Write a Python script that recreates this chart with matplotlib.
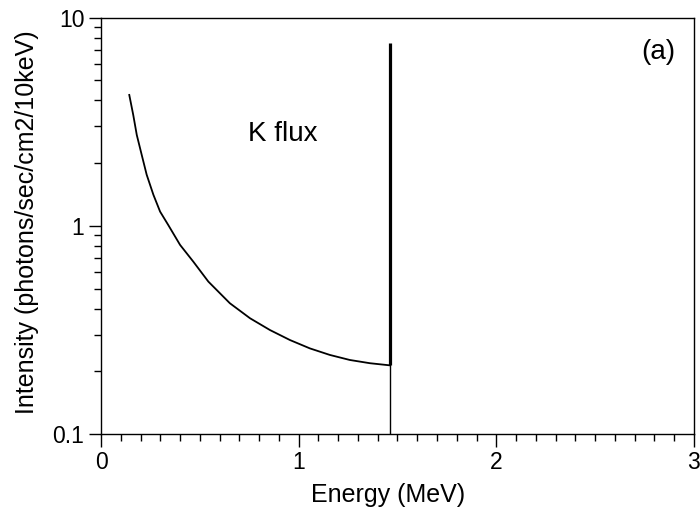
import matplotlib
matplotlib.use("Agg")
import matplotlib.pyplot as plt
from matplotlib.ticker import LogLocator, FixedLocator, MultipleLocator, NullFormatter, FixedFormatter

plt.rcParams['font.family'] = ['Liberation Sans', 'DejaVu Sans']

# continuum
energy = [0.143, 0.163, 0.181, 0.206, 0.231, 0.265, 0.299, 0.340, 0.400,
          0.467, 0.543, 0.652, 0.754, 0.855, 0.956, 1.057, 1.158, 1.259,
          1.361, 1.460]
intensity = [4.25, 3.41, 2.73, 2.19, 1.76, 1.41, 1.17, 1.01, 0.81,
             0.673, 0.540, 0.425, 0.360, 0.316, 0.283, 0.258, 0.240, 0.227,
             0.219, 0.214]

# K-40 line
line_energy = 1.460
line_top = 7.57

fig = plt.figure(figsize=(7.0, 5.15), dpi=100)
ax = fig.add_axes([0.1443, 0.157, 0.847, 0.809])

ax.plot(energy, intensity, color='black', lw=1.3)
ax.plot([line_energy, line_energy], [intensity[-1], line_top], color='black', lw=2.3,
        solid_capstyle='butt')
ax.plot([line_energy, line_energy], [0.05, intensity[-1]], color='black', lw=1.0)

ax.set_yscale('log')
ax.set_xlim(0, 3)
ax.set_ylim(0.1, 10)

ax.xaxis.set_major_locator(FixedLocator([0, 1, 2, 3]))
ax.xaxis.set_major_formatter(FixedFormatter(['0', '1', '2', '3']))
ax.xaxis.set_minor_locator(MultipleLocator(0.1))
ax.yaxis.set_major_locator(FixedLocator([0.1, 1, 10]))
ax.yaxis.set_major_formatter(FixedFormatter(['0.1', '1', '10']))
ax.yaxis.set_minor_locator(LogLocator(base=10, subs=range(2, 10)))
ax.yaxis.set_minor_formatter(NullFormatter())

ax.tick_params(which='both', direction='out', top=False, right=False,
               labelsize=16.5, width=1.0)
ax.tick_params(which='major', length=9, pad=3)
ax.tick_params(which='minor', length=5)
for s in ax.spines.values():
    s.set_linewidth(1.0)

ax.set_xlabel('Energy (MeV)', fontsize=18)
ax.set_ylabel('Intensity (photons/sec/cm2/10keV)', fontsize=18)
ax.xaxis.set_label_coords(0.484, -0.117)
ax.yaxis.set_label_coords(-0.104, 0.508)

ax.text(0.248, 0.703, 'K flux', transform=ax.transAxes, fontsize=20)
ax.text(0.912, 0.9, '(a)', transform=ax.transAxes, fontsize=20)

fig.savefig('out.png', dpi=100)
